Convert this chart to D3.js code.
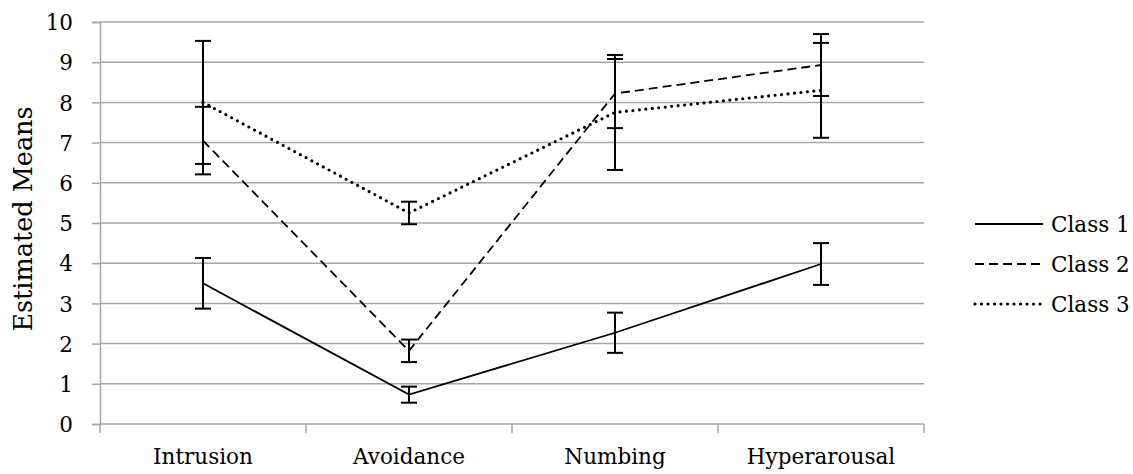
<!DOCTYPE html>
<html>
<head>
<meta charset="utf-8">
<script src="https://cdn.jsdelivr.net/npm/d3@7"></script>
<style>
  body { margin: 0; background: #fff; }
  svg text { font-family: "DejaVu Serif", serif; fill: #000; }
</style>
</head>
<body>
<svg id="chart" width="1133" height="474"></svg>
<script>
// data
var categories = ["Intrusion", "Avoidance", "Numbing", "Hyperarousal"];
var seriesNames = ["Class 1", "Class 2", "Class 3"];
var class1 = [3.5, 0.73, 2.27, 3.98];
var class2 = [7.05, 1.82, 8.22, 8.93];
var class3 = [8.0, 5.25, 7.75, 8.3];
var class1Err = [0.63, 0.2, 0.5, 0.52];
var class2Err = [0.84, 0.28, 0.86, 0.77];
var class3Err = [1.53, 0.28, 1.43, 1.18];
var yTicks = [0, 1, 2, 3, 4, 5, 6, 7, 8, 9, 10];

var series = [
  { name: seriesNames[0], values: class1, err: class1Err, dash: null, cap: "butt", width: 1.8 },
  { name: seriesNames[1], values: class2, err: class2Err, dash: "9,5", cap: "butt", width: 1.8 },
  { name: seriesNames[2], values: class3, err: class3Err, dash: "0,6.5", cap: "round", width: 3.2 }
];

var svg = d3.select("#chart");
var margin = { left: 100, right: 209, top: 22, bottom: 50 };
var width = 1133 - margin.left - margin.right;
var height = 474 - margin.top - margin.bottom;
var g = svg.append("g").attr("transform", "translate(" + margin.left + "," + margin.top + ")");

var x = d3.scaleBand().domain(categories).range([0, width]);
var y = d3.scaleLinear().domain([0, 10]).range([height, 0]);
var grid = "#a6a6a6";
var fs = "21.5px";

// horizontal gridlines
g.selectAll(".grid").data(yTicks).enter().append("line")
  .attr("x1", 0).attr("x2", width)
  .attr("y1", function (d) { return y(d); }).attr("y2", function (d) { return y(d); })
  .attr("stroke", grid).attr("stroke-width", 1.5);

// y axis
var yAxis = g.append("g").call(d3.axisLeft(y).tickValues(yTicks).tickSize(8).tickPadding(19));
yAxis.select(".domain").attr("stroke", grid).attr("stroke-width", 1.5);
yAxis.selectAll(".tick line").attr("stroke", grid).attr("stroke-width", 1.5);
yAxis.selectAll("text").style("font-size", fs).attr("dy", "0.36em");

// x axis, ticks on category boundaries
var xAxis = g.append("g").attr("transform", "translate(0," + height + ")")
  .call(d3.axisBottom(x).tickSize(0).tickPadding(25));
xAxis.select(".domain").remove();
xAxis.selectAll("text").style("font-size", fs);
var bounds = categories.map(function (c) { return x(c); }).concat([width]);
xAxis.selectAll(".bound").data(bounds).enter().append("line")
  .attr("x1", function (d) { return d; }).attr("x2", function (d) { return d; })
  .attr("y1", 0).attr("y2", 9)
  .attr("stroke", grid).attr("stroke-width", 1.5);

var cx = function (i) { return x(categories[i]) + x.bandwidth() / 2; };

// lines
var line = d3.line()
  .x(function (d, i) { return cx(i); })
  .y(function (d) { return y(d); });

series.forEach(function (s) {
  g.append("path").datum(s.values)
    .attr("d", line)
    .attr("fill", "none")
    .attr("stroke", "#000")
    .attr("stroke-width", s.width)
    .attr("stroke-linecap", s.cap)
    .attr("stroke-dasharray", s.dash);
});

// error bars
series.forEach(function (s) {
  s.values.forEach(function (v, i) {
    var hi = y(v + s.err[i]), lo = y(v - s.err[i]), px = cx(i);
    g.append("line").attr("x1", px).attr("x2", px).attr("y1", hi).attr("y2", lo)
      .attr("stroke", "#000").attr("stroke-width", 2);
    [hi, lo].forEach(function (yy) {
      g.append("line").attr("x1", px - 8).attr("x2", px + 8).attr("y1", yy).attr("y2", yy)
        .attr("stroke", "#000").attr("stroke-width", 2);
    });
  });
});

// y axis title
svg.append("text")
  .attr("transform", "translate(23," + 219 + ") rotate(-90)")
  .attr("text-anchor", "middle")
  .attr("dy", "0.36em")
  .style("font-size", "25.5px")
  .text("Estimated Means");

// legend
var legend = svg.append("g").attr("transform", "translate(975,224)");
series.forEach(function (s, i) {
  var row = legend.append("g").attr("transform", "translate(0," + (i * 40) + ")");
  row.append("line").attr("x1", 0).attr("x2", 68).attr("y1", 0).attr("y2", 0)
    .attr("stroke", "#000")
    .attr("stroke-width", s.width)
    .attr("stroke-linecap", s.cap)
    .attr("stroke-dasharray", s.dash);
  row.append("text").attr("x", 76).attr("y", 0).attr("dy", "0.36em")
    .style("font-size", fs).text(s.name);
});
</script>
</body>
</html>
